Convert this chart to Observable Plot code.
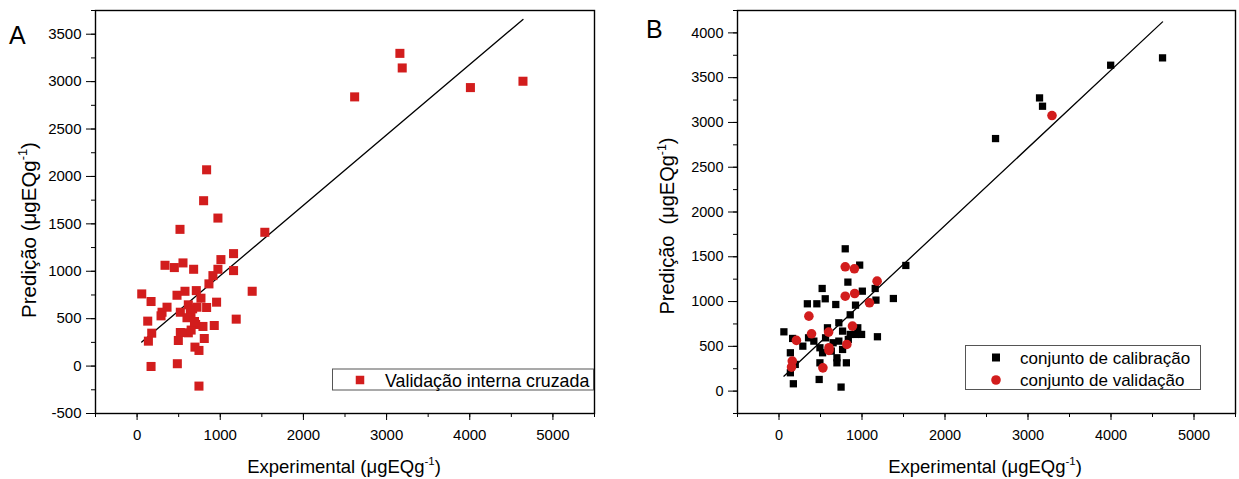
<!DOCTYPE html>
<html><head><meta charset="utf-8">
<script src="https://cdn.jsdelivr.net/npm/d3@7"></script>
<script src="https://cdn.jsdelivr.net/npm/@observablehq/plot@0.6"></script>
<style>
html,body{margin:0;padding:0;background:#fff;}
#wrap{position:relative;width:1239px;height:479px;overflow:hidden;}
#wrap svg{position:absolute;top:0;}
</style></head><body><div id="wrap"></div>
<script>
// ---------- Panel A: validação interna cruzada ----------
const aExp  = [3160,3188,2616,4008,4640,836,800,972,516,1536,1160,1008,336,448,552,680,972,1160,912,864,56,168,480,576,712,768,1384,956,836,360,300,288,520,616,668,720,648,1192,928,792,704,128,176,136,520,616,496,808,696,744,168,484,744,640,600,650,690];
const aPred = [3298,3144,2839,2937,3004,2070,1744,1561,1442,1411,1186,1123,1063,1039,1088,1021,1021,1007,954,867,761,681,747,789,796,716,789,674,618,621,568,530,568,646,604,621,537,495,428,418,439,474,347,263,354,351,270,291,200,165,-4,25,-211,580,510,380,470];
const aFitX = [56, 4640];
const aFitY = [253, 3656];

// ---------- Panel B: calibração / validação ----------
const calExp  = [4621,3996,3139,3175,2609,1528,798,972,830,520,1159,1004,1378,557,1168,342,456,684,922,858,59,1186,949,926,721,584,356,287,164,137,493,525,630,698,812,698,493,484,137,173,748,766,721,835,652,561,858,766,995,420,196];
const calPred = [3721,3639,3274,3181,2820,1403,1589,1407,1217,1146,1146,1116,1034,1031,1016,975,975,967,960,852,662,607,707,633,763,707,595,502,588,428,484,428,447,372,316,316,316,130,205,82,45,465,558,577,540,595,633,670,633,558,298];
const valExp  = [3289,798,908,1182,798,912,1090,360,392,885,598,210,602,602,817,160,151,529];
const valPred = [3077,1388,1366,1228,1060,1090,986,837,640,726,659,566,484,454,521,335,268,260];
const bFitX = [59, 4621];
const bFitY = [167, 4123];

// ---------- tick labels ----------
const xTicks = [0, 1000, 2000, 3000, 4000, 5000];
const xMinor = [-500, 0, 500, 1000, 1500, 2000, 2500, 3000, 3500, 4000, 4500, 5000, 5500];
const aYTicks = [-500, 0, 500, 1000, 1500, 2000, 2500, 3000, 3500];
const aYMinor = d3.range(-500, 3751, 250);
const bYTicks = [0, 500, 1000, 1500, 2000, 2500, 3000, 3500, 4000];
const bYMinor = d3.range(-250, 4251, 250);

const FONT = '"Liberation Sans", Arial, Helvetica, sans-serif';
const RED = "#d21d1d";

function axesMarks(yTicks, yMinor, fs) {
  return [
    Plot.axisX({ticks: xMinor, tickSize: 4, tickFormat: () => "", label: null}),
    Plot.axisY({ticks: yMinor, tickSize: 4, tickFormat: () => "", label: null}),
    Plot.axisX({ticks: xTicks, tickSize: 7, tickPadding: 9, label: null, fontSize: fs, tickFormat: d => String(d)}),
    Plot.axisY({ticks: yTicks, tickSize: 9, tickPadding: 5, label: null, fontSize: fs, tickFormat: d => String(d)}),
    Plot.frame({stroke: "black", strokeWidth: 1.4})
  ];
}

const plotA = Plot.plot({
  width: 620, height: 479,
  marginLeft: 95, marginRight: 26, marginTop: 10, marginBottom: 66,
  style: {fontFamily: FONT, color: "black", background: "transparent"},
  x: {domain: [-500, 5500]},
  y: {domain: [-500, 3750]},
  marks: [
    ...axesMarks(aYTicks, aYMinor, 15),
    Plot.line(d3.zip(aFitX, aFitY), {x: d => d[0], y: d => d[1], stroke: "black", strokeWidth: 1.3}),
    Plot.dot(d3.zip(aExp, aPred), {x: d => d[0], y: d => d[1], symbol: "square", r: 5.1, fill: RED, stroke: "none"})
  ]
});

const plotB = Plot.plot({
  width: 619, height: 479,
  marginLeft: 117, marginRight: 4, marginTop: 10, marginBottom: 66,
  style: {fontFamily: FONT, color: "black", background: "transparent"},
  x: {domain: [-500, 5500]},
  y: {domain: [-250, 4250]},
  marks: [
    ...axesMarks(bYTicks, bYMinor, 14.5),
    Plot.line(d3.zip(bFitX, bFitY), {x: d => d[0], y: d => d[1], stroke: "black", strokeWidth: 1.3}),
    Plot.dot(d3.zip(calExp, calPred), {x: d => d[0], y: d => d[1], symbol: "square", r: 4.1, fill: "black", stroke: "none"}),
    Plot.dot(d3.zip(valExp, valPred), {x: d => d[0], y: d => d[1], symbol: "circle", r: 4.8, fill: RED, stroke: "none"})
  ]
});

const wrap = document.getElementById("wrap");
plotA.style.left = "0px";
plotB.style.left = "620px";
wrap.appendChild(plotA);
wrap.appendChild(plotB);

function unitText(svg, x, y, prefix, size, rotate) {
  const t = d3.select(svg).append("text")
    .attr("font-family", FONT).attr("font-size", size).attr("fill", "black")
    .attr("text-anchor", "middle").style("white-space", "pre")
    .attr("transform", `translate(${x},${y})` + (rotate ? " rotate(-90)" : ""));
  t.append("tspan").text(prefix + "(\u03bcgEQg");
  t.append("tspan").attr("dy", -size * 0.42).attr("font-size", size * 0.62).text("-1");
  t.append("tspan").attr("dy", size * 0.42).text(")");
}
function plainText(svg, x, y, str, size, anchor = "start") {
  d3.select(svg).append("text").attr("x", x).attr("y", y)
    .attr("font-family", FONT).attr("font-size", size).attr("fill", "black")
    .attr("text-anchor", anchor).style("white-space", "pre").text(str);
}

// Panel A decorations
plainText(plotA, 9, 43.5, "A", 25);
unitText(plotA, 36, 230, "Predição ", 20.5, true);
unitText(plotA, 344, 473, "Experimental ", 18.5, false);
{
  const g = d3.select(plotA).append("g");
  g.append("rect").attr("x", 332.5).attr("y", 369).attr("width", 261).attr("height", 21)
    .attr("fill", "white").attr("stroke", "#555").attr("stroke-width", 1);
  g.append("rect").attr("x", 355.75).attr("y", 375.75).attr("width", 8.5).attr("height", 8.5).attr("fill", RED);
  plainText(plotA, 385, 386.5, "Validação interna cruzada", 17.8);
}

// Panel B decorations (svg offset 620)
const OB = 620;
plainText(plotB, 646 - OB, 37.5, "B", 25);
unitText(plotB, 674 - OB, 226, "Predição  ", 20, true);
unitText(plotB, 985 - OB, 473, "Experimental ", 18.5, false);
{
  const g = d3.select(plotB).append("g");
  g.append("rect").attr("x", 965.5 - OB).attr("y", 345.5).attr("width", 235).attr("height", 44)
    .attr("fill", "white").attr("stroke", "#555").attr("stroke-width", 1);
  g.append("rect").attr("x", 992 - OB).attr("y", 353.5).attr("width", 8).attr("height", 8).attr("fill", "black");
  g.append("circle").attr("cx", 996 - OB).attr("cy", 380).attr("r", 4.8).attr("fill", RED);
  plainText(plotB, 1020 - OB, 363.5, "conjunto de calibração", 17);
  plainText(plotB, 1020 - OB, 386, "conjunto de validação", 17);
}
</script></body></html>
